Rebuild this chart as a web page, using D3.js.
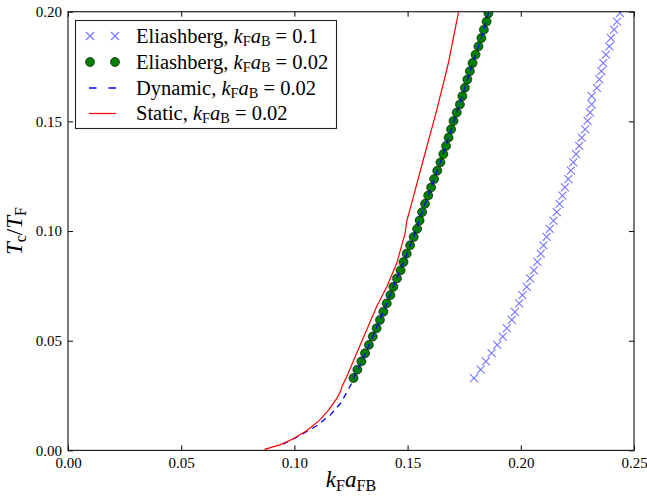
<!DOCTYPE html>
<meta charset="utf-8">
<style>
body { margin: 0; background: #fff; }
svg { font-family: "Liberation Serif", "DejaVu Serif", serif; }
.tick text { font-size: 15px; fill: #000; }
.tick line { stroke: #000; stroke-width: 1; }
</style>
<body>
<svg width="647" height="498"></svg>
</body>
<script src="https://cdn.jsdelivr.net/npm/d3@7"></script>
<script>

// shared Tc/TF grid of the two Eliashberg runs
var tcGrid = [0.0330, 0.0368, 0.0406, 0.0443, 0.0481, 0.0519, 0.0557, 0.0595, 0.0632, 0.0670,
  0.0708, 0.0746, 0.0784, 0.0821, 0.0859, 0.0897, 0.0935, 0.0973, 0.1010, 0.1048,
  0.1086, 0.1124, 0.1162, 0.1199, 0.1237, 0.1275, 0.1313, 0.1351, 0.1388, 0.1426,
  0.1464, 0.1502, 0.1540, 0.1577, 0.1615, 0.1653, 0.1691, 0.1729, 0.1766, 0.1804,
  0.1842, 0.1880, 0.1918, 0.1955, 0.1993];

// Eliashberg, kF aB = 0.1  (crosses)
var elia01K = [0.1793, 0.1823, 0.1846, 0.1871, 0.1896, 0.1920, 0.1938, 0.1960, 0.1974, 0.1993,
  0.2007, 0.2026, 0.2041, 0.2058, 0.2073, 0.2088, 0.2100, 0.2114, 0.2128, 0.2144,
  0.2159, 0.2171, 0.2184, 0.2195, 0.2210, 0.2221, 0.2232, 0.2244, 0.2258, 0.2269,
  0.2284, 0.2295, 0.2306, 0.2313, 0.2313, 0.2336, 0.2347, 0.2356, 0.2364, 0.2376,
  0.2391, 0.2398, 0.2412, 0.2425, 0.2438];

// Eliashberg, kF aB = 0.02  (dots)
var elia002K = [0.1261, 0.1278, 0.1296, 0.1312, 0.1329, 0.1346, 0.1363, 0.1378, 0.1393, 0.1408,
  0.1424, 0.1437, 0.1453, 0.1469, 0.1482, 0.1496, 0.1511, 0.1527, 0.1542, 0.1553,
  0.1564, 0.1577, 0.1591, 0.1604, 0.1617, 0.1631, 0.1645, 0.1658, 0.1670, 0.1681,
  0.1692, 0.1703, 0.1717, 0.1731, 0.1742, 0.1753, 0.1764, 0.1775, 0.1787, 0.1800,
  0.1813, 0.1826, 0.1837, 0.1849, 0.1857];

// Dynamic, kF aB = 0.02  (dashed)
var dynK  = [0.0950, 0.1025, 0.1098, 0.1160, 0.1205, 0.1234, 0.1255, 0.1270, 0.1298, 0.1346,
  0.1393, 0.1437, 0.1482, 0.1527, 0.1564, 0.1604, 0.1645, 0.1681, 0.1717, 0.1753,
  0.1787, 0.1826, 0.1857, 0.1860];
var dynTc = [0.0028, 0.0068, 0.0112, 0.0163, 0.0216, 0.0270, 0.0310, 0.0350, 0.0406, 0.0519,
  0.0632, 0.0746, 0.0859, 0.0973, 0.1086, 0.1199, 0.1313, 0.1426, 0.1540, 0.1653,
  0.1766, 0.1880, 0.1993, 0.2010];

// Static, kF aB = 0.02  (solid red)
var staticK  = [0.0868, 0.0936, 0.0995, 0.1054, 0.1110, 0.1152, 0.1188, 0.1203, 0.1210, 0.1231,
  0.1275, 0.1319, 0.1363, 0.1408, 0.1452, 0.1489, 0.1496, 0.1518, 0.1569, 0.1629,
  0.1680, 0.1724, 0.1727];
var staticTc = [0.0005, 0.0025, 0.0053, 0.0090, 0.0137, 0.0185, 0.0238, 0.0268, 0.0290, 0.0336,
  0.0443, 0.0549, 0.0655, 0.0746, 0.0853, 0.0990, 0.1043, 0.1127, 0.1324, 0.1552,
  0.1765, 0.1993, 0.2010];

var xTicks = [0, 0.05, 0.10, 0.15, 0.20, 0.25];
var yTicks = [0, 0.05, 0.10, 0.15, 0.20];

var legendNames = ["Eliashberg,", "Eliashberg,", "Dynamic,", "Static,"];
var legendVals  = ["0.1", "0.02", "0.02", "0.02"];

var svg = d3.select("svg");
var pLeft = 68, pRight = 634, pTop = 11.7, pBottom = 450.4;

var x = d3.scaleLinear().domain([0, 0.25]).range([pLeft, pRight]);
var y = d3.scaleLinear().domain([0, 0.2]).range([pBottom, pTop]);

svg.append("clipPath").attr("id", "clip")
  .append("rect")
    .attr("x", pLeft).attr("y", pTop)
    .attr("width", pRight - pLeft).attr("height", pBottom - pTop);

var fmt = d3.format(".2f");

// axes, ticks inward on all four sides
svg.append("g")
  .attr("transform", "translate(0," + pBottom + ")")
  .call(d3.axisBottom(x).tickValues(xTicks).tickFormat(fmt).tickSizeInner(-5).tickSizeOuter(0).tickPadding(7))
  .call(function(g) { g.select(".domain").remove(); });
svg.append("g")
  .attr("transform", "translate(" + pLeft + ",0)")
  .call(d3.axisLeft(y).tickValues(yTicks).tickFormat(fmt).tickSizeInner(-5).tickSizeOuter(0).tickPadding(6))
  .call(function(g) { g.select(".domain").remove(); });
svg.append("g")
  .attr("transform", "translate(0," + pTop + ")")
  .call(d3.axisTop(x).tickValues(xTicks).tickFormat("").tickSizeInner(-5).tickSizeOuter(0))
  .call(function(g) { g.select(".domain").remove(); });
svg.append("g")
  .attr("transform", "translate(" + pRight + ",0)")
  .call(d3.axisRight(y).tickValues(yTicks).tickFormat("").tickSizeInner(-5).tickSizeOuter(0))
  .call(function(g) { g.select(".domain").remove(); });

svg.selectAll(".tick text").attr("font-family", "Liberation Serif");

var plot = svg.append("g").attr("clip-path", "url(#clip)");

var cross = "M-4,-4L4,4M-4,4L4,-4";

// crosses
plot.selectAll(".cross")
  .data(d3.range(tcGrid.length))
  .enter().append("path")
    .attr("class", "cross")
    .attr("d", cross)
    .attr("transform", function(i) { return "translate(" + x(elia01K[i]) + "," + y(tcGrid[i]) + ")"; })
    .attr("fill", "none")
    .attr("stroke", "#0000ff")
    .attr("stroke-opacity", 0.55)
    .attr("stroke-width", 1.1);

// dots
plot.selectAll(".dot")
  .data(d3.range(tcGrid.length))
  .enter().append("circle")
    .attr("class", "dot")
    .attr("cx", function(i) { return x(elia002K[i]); })
    .attr("cy", function(i) { return y(tcGrid[i]); })
    .attr("r", 4.5)
    .attr("fill", "#008000")
    .attr("stroke", "#000")
    .attr("stroke-width", 0.6);

function pathOf(ks, ts) {
  return d3.line()
    .x(function(i) { return x(ks[i]); })
    .y(function(i) { return y(ts[i]); })(d3.range(ks.length));
}

plot.append("path")
  .attr("d", pathOf(dynK, dynTc))
  .attr("fill", "none")
  .attr("stroke", "#0000ff")
  .attr("stroke-width", 1.3)
  .attr("stroke-dasharray", "6,5");

plot.append("path")
  .attr("d", pathOf(staticK, staticTc))
  .attr("fill", "none")
  .attr("stroke", "#ff0000")
  .attr("stroke-width", 1.2);

// frame
svg.append("rect")
  .attr("x", pLeft).attr("y", pTop)
  .attr("width", pRight - pLeft).attr("height", pBottom - pTop)
  .attr("fill", "none")
  .attr("stroke", "#222")
  .attr("stroke-width", 1.2);

// legend
var lg = svg.append("g");
lg.append("rect")
  .attr("x", 75.5).attr("y", 20.5)
  .attr("width", 261).attr("height", 108)
  .attr("fill", "#fff")
  .attr("stroke", "#222")
  .attr("stroke-width", 1.1);

var rowY = [36, 62, 88, 113.5];

[90, 115].forEach(function(px) {
  lg.append("path").attr("d", cross)
    .attr("transform", "translate(" + px + "," + rowY[0] + ")")
    .attr("fill", "none").attr("stroke", "#0000ff")
    .attr("stroke-opacity", 0.55).attr("stroke-width", 1.1);
  lg.append("circle").attr("cx", px).attr("cy", rowY[1]).attr("r", 4.5)
    .attr("fill", "#008000").attr("stroke", "#000").attr("stroke-width", 0.6);
});
lg.append("line").attr("x1", 89).attr("x2", 116).attr("y1", rowY[2]).attr("y2", rowY[2])
  .attr("stroke", "#0000ff").attr("stroke-width", 1.3).attr("stroke-dasharray", "7.5,12");
lg.append("line").attr("x1", 89).attr("x2", 116).attr("y1", rowY[3]).attr("y2", rowY[3])
  .attr("stroke", "#ff0000").attr("stroke-width", 1.2);

function mathLabel(t, parts, size) {
  // parts: [text, italic?, subscript?]
  parts.forEach(function(p) {
    var s = t.append("tspan").text(p[0]);
    if (p[1]) s.attr("font-style", "italic");
    if (p[2]) s.attr("font-size", size * 0.7).attr("baseline-shift", "-22%");
  });
}

legendNames.forEach(function(name, i) {
  var t = lg.append("text")
    .attr("x", 136)
    .attr("y", rowY[i] + 6.5)
    .attr("font-size", 20.5);
  t.append("tspan").text(name + " ");
  mathLabel(t, [["k", true], ["F", false, true], ["a", true], ["B", false, true], [" = " + legendVals[i], false]], 20.5);
});

// axis labels
var xl = svg.append("text")
  .attr("x", (pLeft + pRight) / 2)
  .attr("y", 487)
  .attr("text-anchor", "middle")
  .attr("font-size", 23);
mathLabel(xl, [["k", true], ["F", false, true], ["a", true], ["FB", false, true]], 23);

var yl = svg.append("text")
  .attr("transform", "translate(22," + (pTop + pBottom) / 2 + ") rotate(-90)")
  .attr("text-anchor", "middle")
  .attr("font-size", 23);
mathLabel(yl, [["T", true], ["c", false, true], ["/", false], ["T", true], ["F", false, true]], 23);

</script>
